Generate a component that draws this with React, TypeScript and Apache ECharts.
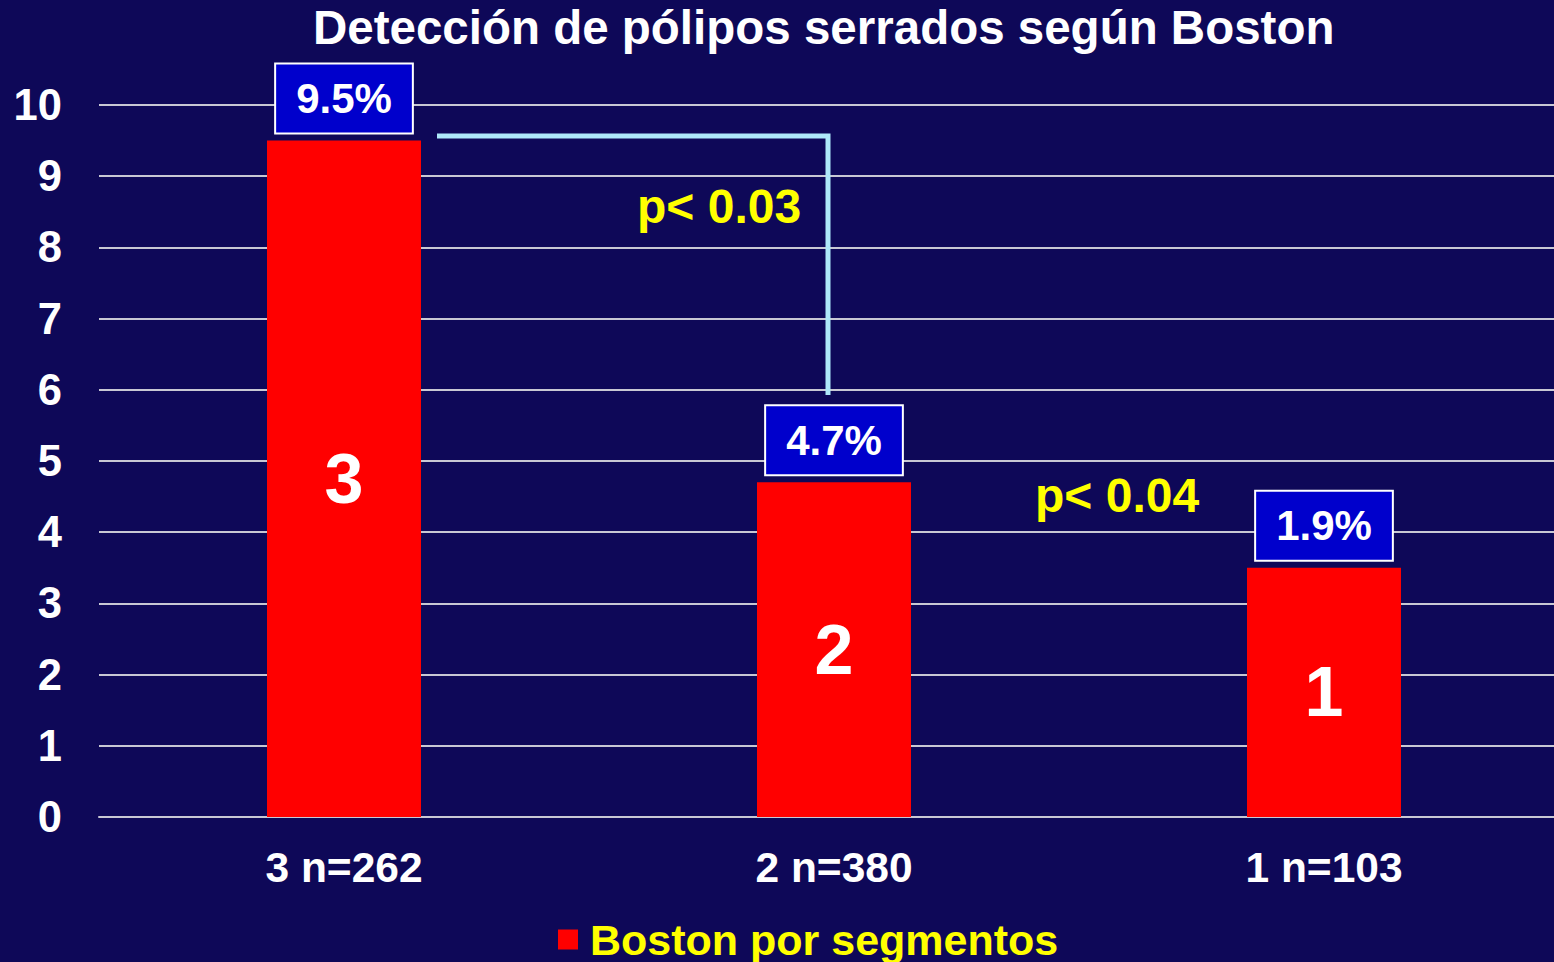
import React, { useEffect, useRef } from "react";
import * as echarts from "echarts";

const categories = ["3 n=262", "2 n=380", "1 n=103"];
const barValues = [9.5, 4.7, 3.5];
const innerLabels = ["3", "2", "1"];
const percentLabels = ["9.5%", "4.7%", "1.9%"];
const yTicks = [0, 1, 2, 3, 4, 5, 6, 7, 8, 9, 10];
const seriesName = "Boston por segmentos";
const pNotes = ["p< 0.03", "p< 0.04"];

const FONT = "'Liberation Sans', Arial, Helvetica, sans-serif";

export default function App() {
  const ref = useRef<HTMLDivElement>(null);
  useEffect(() => {
    if (!ref.current) return;
    const chart = echarts.init(ref.current, undefined, { renderer: "svg" });
    chart.setOption({
      animation: false,
      backgroundColor: "#0e0858",
      textStyle: { fontFamily: FONT },
      title: {
        text: "Detección de pólipos serrados según Boston",
        left: 313,
        top: 3,
        padding: 0,
        textStyle: { color: "#ffffff", fontSize: 47.5, fontWeight: "bold", fontFamily: FONT },
      },
      legend: {
        data: [seriesName],
        left: 558,
        top: 918,
        padding: 0,
        itemWidth: 20,
        itemHeight: 20,
        icon: "rect",
        textStyle: { color: "#ffff00", fontSize: 43, fontWeight: "bold", fontFamily: FONT, padding: [0, 0, 0, 7] },
      },
      grid: { left: 99, top: 105, width: 1470, height: 712, containLabel: false },
      xAxis: {
        type: "category",
        data: categories,
        axisLine: { show: true, lineStyle: { color: "#c8c8d4", width: 2 } },
        axisTick: { show: false },
        axisLabel: { color: "#ffffff", fontSize: 42.5, fontWeight: "bold", margin: 29, fontFamily: FONT },
      },
      yAxis: {
        type: "value",
        min: yTicks[0],
        max: yTicks[yTicks.length - 1],
        interval: 1,
        axisLine: { show: false },
        axisTick: { show: false },
        splitLine: { show: true, lineStyle: { color: "#c8c8d4", width: 2 } },
        axisLabel: { color: "#ffffff", fontSize: 43.5, fontWeight: "bold", margin: 37, fontFamily: FONT },
      },
      series: [
        {
          name: seriesName,
          type: "bar",
          data: barValues,
          barWidth: 154,
          itemStyle: { color: "#ff0000" },
          label: {
            show: true,
            position: "inside",
            formatter: (p: any) => innerLabels[p.dataIndex],
            color: "#ffffff",
            fontSize: 70,
            fontWeight: "bold",
            fontFamily: FONT,
          },
        },
        {
          name: "pct",
          type: "bar",
          data: barValues,
          barWidth: 154,
          barGap: "-100%",
          silent: true,
          itemStyle: { color: "rgba(0,0,0,0)" },
          label: {
            show: true,
            position: "top",
            distance: 8,
            formatter: (p: any) => percentLabels[p.dataIndex],
            color: "#ffffff",
            fontSize: 42,
            fontWeight: "bold",
            fontFamily: FONT,
            backgroundColor: "#0000cc",
            borderColor: "#ffffff",
            borderWidth: 2,
            padding: [14, 20, 14, 20],
            lineHeight: 40,
          },
        },
      ],
      graphic: [
        {
          type: "polyline",
          shape: { points: [[437, 136], [828, 136], [828, 395]] },
          style: { stroke: "#aee8fa", lineWidth: 5, fill: "none" },
          z: 10,
        },
        {
          type: "text",
          left: 637,
          top: 182,
          style: { text: pNotes[0], fill: "#ffff00", fontSize: 48, fontWeight: "bold", fontFamily: FONT },
          z: 10,
        },
        {
          type: "text",
          left: 1035,
          top: 471,
          style: { text: pNotes[1], fill: "#ffff00", fontSize: 48, fontWeight: "bold", fontFamily: FONT },
          z: 10,
        },
      ],
    });
    return () => chart.dispose();
  }, []);
  return (
    <div style={{ position: "absolute", left: 0, top: 0, width: 1554, height: 962, overflow: "hidden" }}>
      <div ref={ref} style={{ width: 1569, height: 962 }} />
    </div>
  );
}
